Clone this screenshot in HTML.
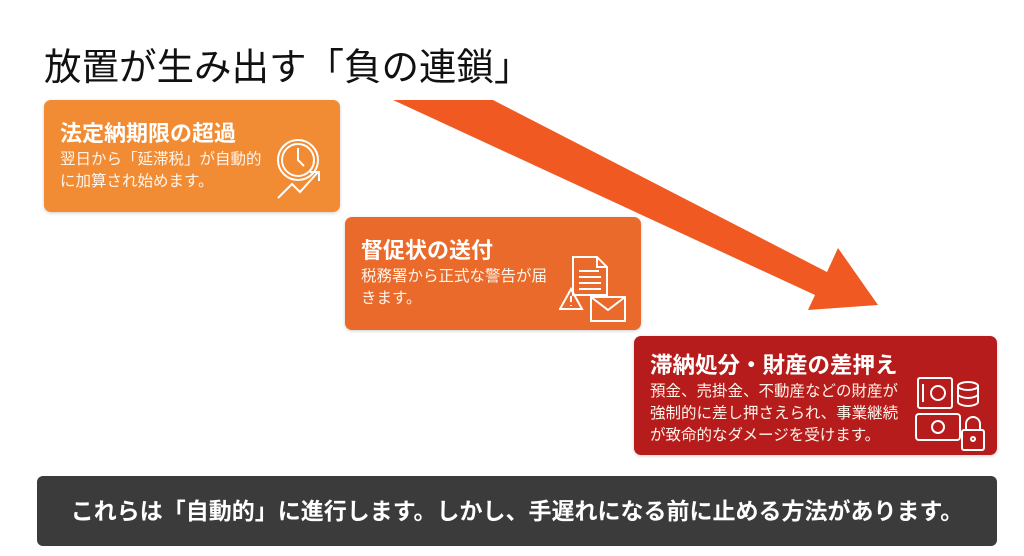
<!DOCTYPE html>
<html><head><meta charset="utf-8"><style>
body{margin:0;width:1024px;height:556px;background:#fff;position:relative;overflow:hidden;font-family:"Liberation Sans","Noto Sans CJK JP",sans-serif}
.t{position:absolute;left:44px;top:36px;font-size:37.5px;color:#111;white-space:nowrap}
.box{position:absolute;border-radius:7px;color:#fff;box-shadow:0 1px 3px rgba(0,0,0,.2)}
.box h3{position:absolute;margin:0;font-size:22px;font-weight:bold;white-space:nowrap}
.box p{position:absolute;margin:0;font-size:15.5px;line-height:22px;white-space:nowrap;color:#fff4ea}
.bar{position:absolute;left:37px;top:476px;width:960px;height:70px;background:#3b3b3b;border-radius:6px;color:#fff;font-size:23px;font-weight:bold;text-align:center;line-height:70px}
svg{position:absolute}
</style></head><body>
<div class="t">放置が生み出す「負の連鎖」</div>
<svg width="1024" height="556" style="left:0;top:0"><polygon points="393,100 493,100 827,272 838,248 878,305 808,310 815,295" fill="#f05a22"/></svg>
<div class="box" style="left:44px;top:100px;width:296px;height:112px;background:#f28c34">
<h3 style="left:16px;top:16px">法定納期限の超過</h3>
<p style="left:16px;top:49px">翌日から「延滞税」が自動的<br>に加算され始めます。</p>
<svg width="60" height="70" style="left:230px;top:34px" fill="none" stroke="#fff" stroke-width="2"><circle cx="24" cy="26" r="20"/><circle cx="24" cy="26" r="16"/><path d="M24 14v12l6 6"/><path d="M4 64l14-14 8 8 18-20"/><path d="M36 38h9v9"/></svg>
</div>
<div class="box" style="left:345px;top:217px;width:296px;height:113px;background:#e96a2b">
<h3 style="left:16px;top:16px">督促状の送付</h3>
<p style="left:16px;top:49px">税務署から正式な警告が届<br>きます。</p>
<svg width="70" height="70" style="left:214px;top:38px" fill="none" stroke="#fff" stroke-width="2"><path d="M14 2h24l10 10v28H14z"/><path d="M38 2v10h10"/><path d="M20 16h20M20 22h22M20 28h22M20 34h22"/><path d="M12 34l-11 20h22z"/><path d="M12 41v6M12 50v1"/><rect x="32" y="42" width="34" height="24"/><path d="M32 42l17 13 17-13"/></svg>
</div>
<div class="box" style="left:634px;top:336px;width:363px;height:119px;background:#b71c1c">
<h3 style="left:16px;top:12px;font-size:22.5px">滞納処分・財産の差押え</h3>
<p style="left:16px;top:45px">預金、売掛金、不動産などの財産が<br>強制的に差し押さえられ、事業継続<br>が致命的なダメージを受けます。</p>
<svg width="80" height="80" style="left:280px;top:38px" fill="none" stroke="#fff" stroke-width="2"><rect x="4" y="4" width="34" height="30" rx="2"/><circle cx="24" cy="19" r="7"/><path d="M9 10v18"/><ellipse cx="54" cy="12" rx="10" ry="4"/><path d="M44 12v16c0 2 5 4 10 4s10-2 10-4V12M44 20c0 2 5 4 10 4s10-2 10-4"/><rect x="2" y="40" width="44" height="26" rx="3"/><circle cx="24" cy="53" r="6"/><rect x="48" y="56" width="22" height="20" rx="2"/><path d="M52 56v-6a7 7 0 0 1 14 0v6"/><circle cx="59" cy="65" r="2"/></svg>
</div>
<div class="bar">これらは「自動的」に進行します。しかし、手遅れになる前に止める方法があります。</div>
</body></html>
